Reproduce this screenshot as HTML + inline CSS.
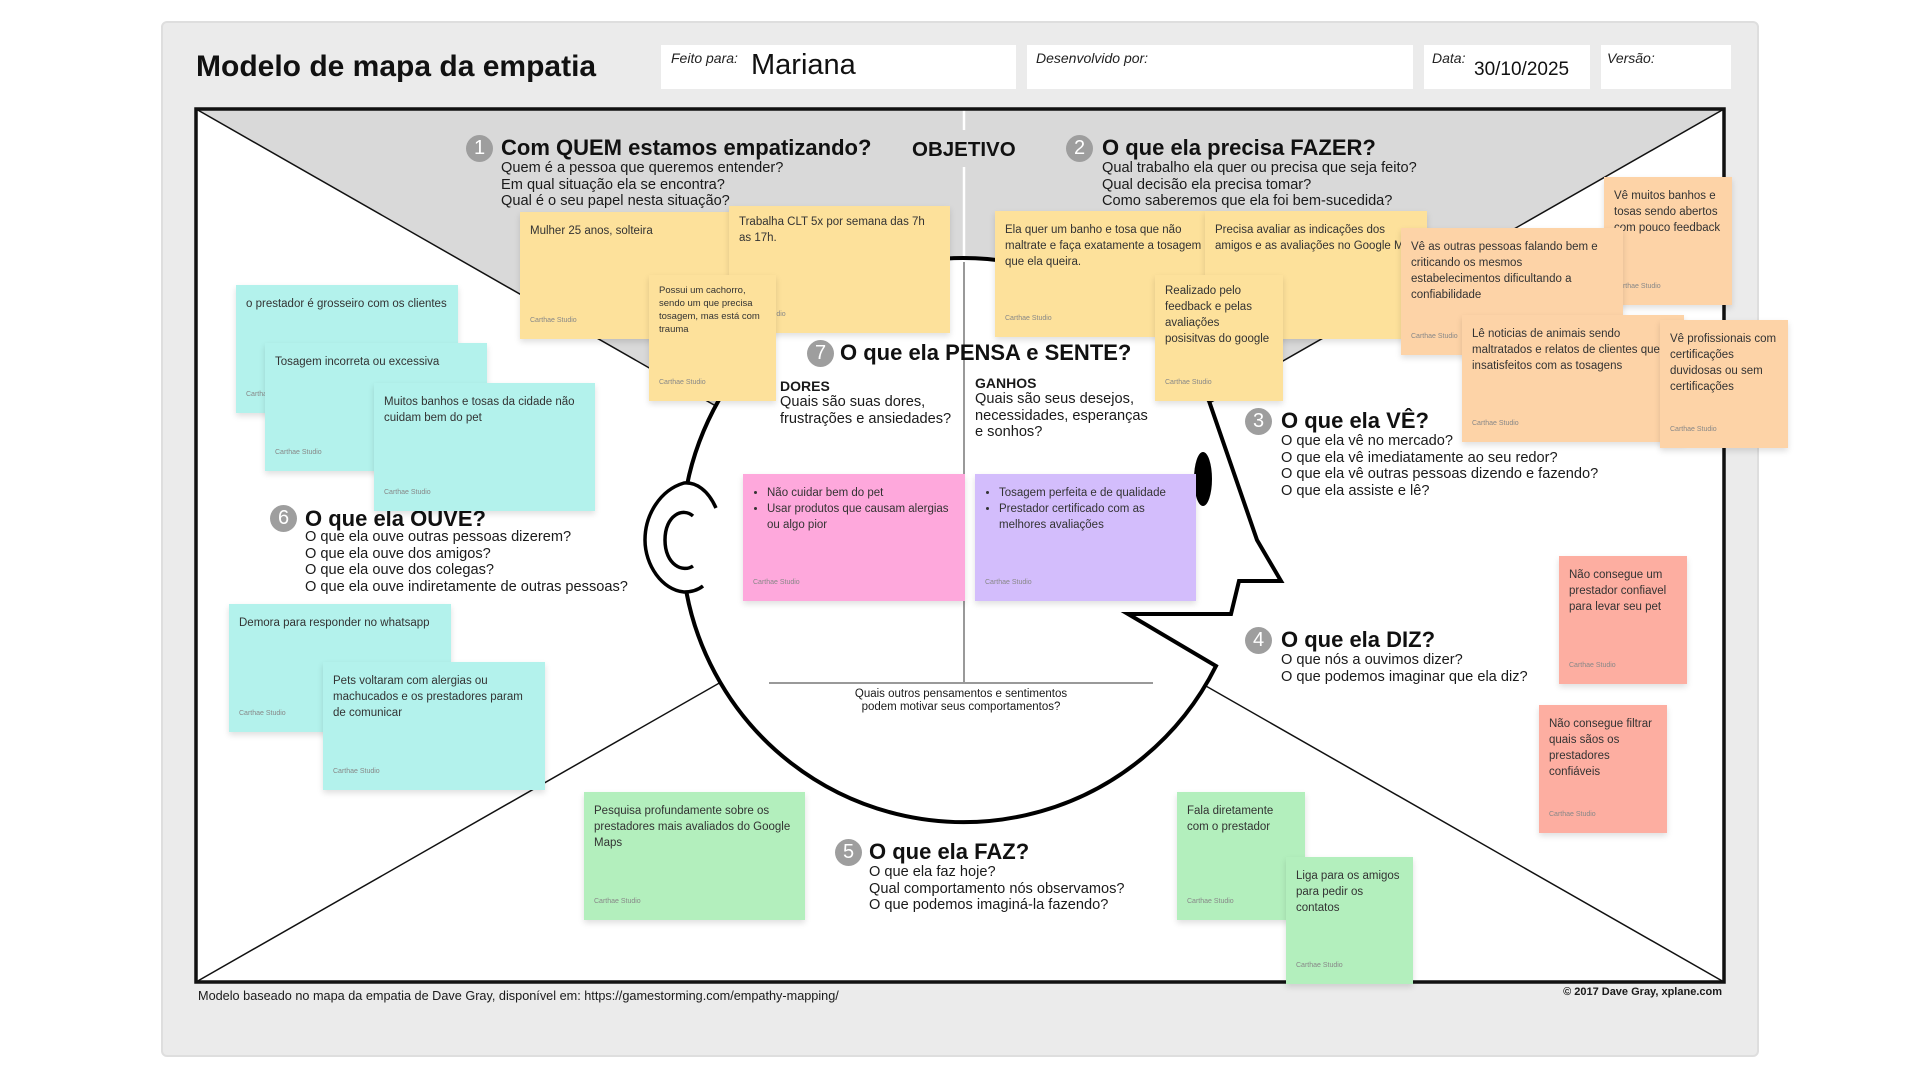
<!DOCTYPE html>
<html><head><meta charset="utf-8">
<style>
*{margin:0;padding:0;box-sizing:border-box}
body{width:1920px;height:1080px;background:#fff;position:relative;overflow:hidden;font-family:"Liberation Sans",sans-serif;color:#1a1a1a}
.a{position:absolute}
.panel{left:161px;top:21px;width:1598px;height:1036px;background:#ebebeb;border:2px solid #dedede;border-radius:6px}
.box{position:absolute;background:#fff}
.lbl{position:absolute;font-style:italic;font-size:14px;color:#222}
.h{position:absolute;font-weight:bold;font-size:22px;white-space:nowrap;color:#111}
.num{position:absolute;width:27px;height:27px;border-radius:50%;background:#9e9e9e;color:#fff;font-size:20px;text-align:center;line-height:27px}
.q{position:absolute;font-size:14.6px;line-height:16.6px;white-space:nowrap;color:#1a1a1a}
.s{position:absolute;box-shadow:0 3px 6px rgba(0,0,0,.13);font-size:11.5px;line-height:16px;padding:11px 10px 0 10px;color:#333}
.s i{position:absolute;left:10px;bottom:14px;font-style:normal;font-size:7px;color:#888;line-height:8px}
.y{background:#fde19b}.o{background:#fdd3a7}.c{background:#b3f2ec}.g{background:#b3efbd}.r{background:#fdaea1}
.s ul{margin-left:14px;line-height:16px}
</style></head><body>
<div class="a panel"></div>
<div class="a" style="left:196px;top:50px;font-size:30px;font-weight:bold;color:#111">Modelo de mapa da empatia</div>
<div class="box" style="left:661px;top:45px;width:355px;height:44px"></div>
<div class="lbl" style="left:671px;top:50px">Feito para:</div>
<div class="a" style="left:751px;top:49px;font-size:29px;color:#111">Mariana</div>
<div class="box" style="left:1027px;top:45px;width:386px;height:44px"></div>
<div class="lbl" style="left:1036px;top:50px">Desenvolvido por:</div>
<div class="box" style="left:1424px;top:45px;width:166px;height:44px"></div>
<div class="lbl" style="left:1432px;top:50px">Data:</div>
<div class="a" style="left:1474px;top:59px;font-size:19px;color:#111">30/10/2025</div>
<div class="box" style="left:1601px;top:45px;width:130px;height:44px"></div>
<div class="lbl" style="left:1607px;top:50px">Versão:</div>

<svg class="a" style="left:0;top:0" width="1920" height="1080">
<rect x="196" y="109" width="1528" height="873" fill="#fff"/>
<polygon points="196,109 1724,109 960,546" fill="#d9d9d9"/>
<line x1="196" y1="109" x2="1724" y2="982" stroke="#111" stroke-width="1.5"/>
<line x1="1724" y1="109" x2="196" y2="982" stroke="#111" stroke-width="1.5"/>
<line x1="964" y1="109" x2="964" y2="130" stroke="#fff" stroke-width="2.5"/>
<line x1="964" y1="167" x2="964" y2="260" stroke="#fff" stroke-width="2.5"/>
<path d="M1209,401 A282,282 0 1,0 1216,666 L1128,614 L1231,614 L1239,581 L1281,581 L1257,540 Z" fill="#fff" stroke="#000" stroke-width="4" stroke-linejoin="miter"/>
<path d="M716,508 C708,490 696,482 684,483 C660,490 645,515 645,540 C645,565 662,590 684,592 C692,592 698,590 703,586 L716,508 Z" fill="#fff"/>
<path d="M716,508 C708,490 696,482 684,483 C660,490 645,515 645,540 C645,565 662,590 684,592 C692,592 698,590 703,586" fill="none" stroke="#000" stroke-width="3.5"/>
<path d="M693,516 C683,507 665,515 665,540 C665,565 683,573 693,566" fill="none" stroke="#000" stroke-width="3.5"/>
<ellipse cx="1203" cy="479" rx="9" ry="27" fill="#000"/>
<line x1="964" y1="262" x2="964" y2="683" stroke="#999" stroke-width="2"/>
<line x1="769" y1="683" x2="1153" y2="683" stroke="#999" stroke-width="2"/>
<rect x="196" y="109" width="1528" height="873" fill="none" stroke="#111" stroke-width="3.5"/>
</svg>

<div class="a" style="left:769px;top:688px;width:384px;text-align:center;font-size:11.5px;line-height:12.5px">Quais outros pensamentos e sentimentos<br>podem motivar seus comportamentos?</div>

<div class="num" style="left:466px;top:135px">1</div>
<div class="h" style="left:501px;top:135px">Com QUEM estamos empatizando?</div>
<div class="q" style="left:501px;top:160px">Quem é a pessoa que queremos entender?<br>Em qual situação ela se encontra?<br>Qual é o seu papel nesta situação?</div>
<div class="h" style="left:912px;top:138px;font-size:20.5px">OBJETIVO</div>
<div class="num" style="left:1066px;top:135px">2</div>
<div class="h" style="left:1102px;top:135px">O que ela precisa FAZER?</div>
<div class="q" style="left:1102px;top:160px">Qual trabalho ela quer ou precisa que seja feito?<br>Qual decisão ela precisa tomar?<br>Como saberemos que ela foi bem-sucedida?</div>
<div class="num" style="left:807px;top:340px">7</div>
<div class="h" style="left:840px;top:340px">O que ela PENSA e SENTE?</div>
<div class="a" style="left:780px;top:378px;font-weight:bold;font-size:14px">DORES</div>
<div class="q" style="left:780px;top:394px">Quais são suas dores,<br>frustrações e ansiedades?</div>
<div class="a" style="left:975px;top:375px;font-weight:bold;font-size:14px">GANHOS</div>
<div class="q" style="left:975px;top:391px">Quais são seus desejos,<br>necessidades, esperanças<br>e sonhos?</div>
<div class="num" style="left:1245px;top:408px">3</div>
<div class="h" style="left:1281px;top:408px">O que ela VÊ?</div>
<div class="q" style="left:1281px;top:433px">O que ela vê no mercado?<br>O que ela vê imediatamente ao seu redor?<br>O que ela vê outras pessoas dizendo e fazendo?<br>O que ela assiste e lê?</div>
<div class="num" style="left:270px;top:505px">6</div>
<div class="h" style="left:305px;top:506px">O que ela OUVE?</div>
<div class="q" style="left:305px;top:529px">O que ela ouve outras pessoas dizerem?<br>O que ela ouve dos amigos?<br>O que ela ouve dos colegas?<br>O que ela ouve indiretamente de outras pessoas?</div>
<div class="num" style="left:1245px;top:627px">4</div>
<div class="h" style="left:1281px;top:627px">O que ela DIZ?</div>
<div class="q" style="left:1281px;top:652px">O que nós a ouvimos dizer?<br>O que podemos imaginar que ela diz?</div>
<div class="num" style="left:835px;top:839px">5</div>
<div class="h" style="left:869px;top:839px">O que ela FAZ?</div>
<div class="q" style="left:869px;top:864px">O que ela faz hoje?<br>Qual comportamento nós observamos?<br>O que podemos imaginá-la fazendo?</div>

<div class="a" style="left:198px;top:989px;font-size:12.7px">Modelo baseado no mapa da empatia de Dave Gray, disponível em: https://gamestorming.com/empathy-mapping/</div>
<div class="a" style="top:986px;width:1222px;font-size:11px;font-weight:bold;left:500px;text-align:right">© 2017 Dave Gray, xplane.com</div>

<!-- stickies -->
<div class="s y" style="left:520px;top:212px;width:222px;height:127px">Mulher 25 anos, solteira<i>Carthae Studio</i></div>
<div class="s y" style="left:729px;top:206px;width:221px;height:127px;padding-top:8px">Trabalha CLT 5x por semana das 7h as 17h.<i>Carthae Studio</i></div>
<div class="s y" style="left:649px;top:275px;width:127px;height:126px;font-size:9.5px;line-height:13px;padding-top:9px">Possui um cachorro, sendo um que precisa tosagem, mas está com trauma<i>Carthae Studio</i></div>
<div class="s y" style="left:995px;top:211px;width:220px;height:126px">Ela quer um banho e tosa que não maltrate e faça exatamente a tosagem que ela queira.<i>Carthae Studio</i></div>
<div class="s y" style="left:1205px;top:211px;width:222px;height:128px;white-space:nowrap;overflow:hidden">Precisa avaliar as indicações dos<br>amigos e as avaliações no Google Maps<i>Carthae Studio</i></div>
<div class="s y" style="left:1155px;top:275px;width:128px;height:126px;padding-top:8px">Realizado pelo feedback e pelas avaliações posisitvas do google<i>Carthae Studio</i></div>

<div class="s o" style="left:1604px;top:177px;width:128px;height:128px">Vê muitos banhos e tosas sendo abertos com pouco feedback<i>Carthae Studio</i></div>
<div class="s o" style="left:1401px;top:228px;width:222px;height:127px">Vê as outras pessoas falando bem e criticando os mesmos estabelecimentos dificultando a confiabilidade<i>Carthae Studio</i></div>
<div class="s o" style="left:1462px;top:315px;width:222px;height:127px;padding-right:2px">Lê noticias de animais sendo maltratados e relatos de clientes que insatisfeitos com as tosagens<i>Carthae Studio</i></div>
<div class="s o" style="left:1660px;top:320px;width:128px;height:128px">Vê profissionais com certificações duvidosas ou sem certificações<i>Carthae Studio</i></div>

<div class="s c" style="left:236px;top:285px;width:222px;height:128px">o prestador é grosseiro com os clientes<i>Carthae Studio</i></div>
<div class="s c" style="left:265px;top:343px;width:222px;height:128px">Tosagem incorreta ou excessiva<i>Carthae Studio</i></div>
<div class="s c" style="left:374px;top:383px;width:221px;height:128px">Muitos banhos e tosas da cidade não cuidam bem do pet<i>Carthae Studio</i></div>
<div class="s c" style="left:229px;top:604px;width:222px;height:128px">Demora para responder no whatsapp<i>Carthae Studio</i></div>
<div class="s c" style="left:323px;top:662px;width:222px;height:128px">Pets voltaram com alergias ou machucados e os prestadores param de comunicar<i>Carthae Studio</i></div>

<div class="s" style="left:743px;top:474px;width:222px;height:127px;background:#fea8dc"><ul><li>Não cuidar bem do pet</li><li>Usar produtos que causam alergias ou algo pior</li></ul><i>Carthae Studio</i></div>
<div class="s" style="left:975px;top:474px;width:221px;height:127px;background:#d3bdfc"><ul><li>Tosagem perfeita e de qualidade</li><li>Prestador certificado com as melhores avaliações</li></ul><i>Carthae Studio</i></div>

<div class="s g" style="left:584px;top:792px;width:221px;height:128px">Pesquisa profundamente sobre os prestadores mais avaliados do Google Maps<i>Carthae Studio</i></div>
<div class="s g" style="left:1177px;top:792px;width:128px;height:128px">Fala diretamente com o prestador<i>Carthae Studio</i></div>
<div class="s g" style="left:1286px;top:857px;width:127px;height:127px">Liga para os amigos para pedir os contatos<i>Carthae Studio</i></div>

<div class="s r" style="left:1559px;top:556px;width:128px;height:128px">Não consegue um prestador confiavel para levar seu pet<i>Carthae Studio</i></div>
<div class="s r" style="left:1539px;top:705px;width:128px;height:128px">Não consegue filtrar quais sãos os prestadores confiáveis<i>Carthae Studio</i></div>
</body></html>
